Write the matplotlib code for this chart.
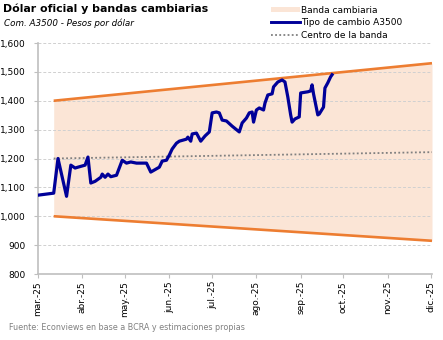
import matplotlib
matplotlib.use("Agg")
import matplotlib.pyplot as plt
from matplotlib.patches import Patch
from matplotlib.lines import Line2D
import pandas as pd

# ---- data ----
fx_dates = ["2025-03-01", "2025-03-12", "2025-03-15", "2025-03-21", "2025-03-24", "2025-03-27",
            "2025-03-29", "2025-04-03", "2025-04-05", "2025-04-07", "2025-04-10", "2025-04-14",
            "2025-04-15", "2025-04-17", "2025-04-19", "2025-04-21", "2025-04-25", "2025-04-29",
            "2025-05-02", "2025-05-05", "2025-05-09", "2025-05-14", "2025-05-16", "2025-05-19",
            "2025-05-25", "2025-05-27", "2025-05-30", "2025-06-01", "2025-06-03", "2025-06-06",
            "2025-06-08", "2025-06-13", "2025-06-14", "2025-06-16", "2025-06-17", "2025-06-20",
            "2025-06-23", "2025-06-26", "2025-06-29", "2025-07-01", "2025-07-04", "2025-07-06",
            "2025-07-08", "2025-07-11", "2025-07-15", "2025-07-20", "2025-07-22", "2025-07-25",
            "2025-07-27", "2025-07-29", "2025-07-30", "2025-08-01", "2025-08-03", "2025-08-06",
            "2025-08-07", "2025-08-09", "2025-08-12", "2025-08-13", "2025-08-16", "2025-08-19",
            "2025-08-21", "2025-08-23", "2025-08-25", "2025-08-26", "2025-08-28", "2025-08-31",
            "2025-09-01", "2025-09-06", "2025-09-08", "2025-09-09", "2025-09-10", "2025-09-13",
            "2025-09-14", "2025-09-17", "2025-09-18", "2025-09-20", "2025-09-22", "2025-09-23"]
fx_values = [1073, 1080, 1200, 1069, 1177, 1167,
             1170, 1177, 1205, 1115, 1121, 1135,
             1146, 1135, 1146, 1137, 1142, 1194,
             1184, 1188, 1184, 1184, 1184, 1153,
             1170, 1191, 1194, 1212, 1233, 1253,
             1260, 1267, 1274, 1260, 1285, 1288,
             1260, 1278, 1292, 1358, 1361, 1358,
             1333, 1330, 1312, 1292, 1323, 1340,
             1358, 1361, 1326, 1368, 1375, 1368,
             1392, 1420, 1424, 1448, 1465, 1472,
             1465, 1413, 1351, 1326, 1337, 1344,
             1427, 1431, 1434, 1455, 1424, 1351,
             1354, 1378, 1444, 1462, 1483, 1490]

band_dates = ["2025-03-12", "2025-12-02"]
band_upper = [1400, 1530]
band_lower = [1000, 915]
band_center = [1200, 1222]

y_ticks = [800, 900, 1000, 1100, 1200, 1300, 1400, 1500, 1600]
month_ticks = ["2025-03-01", "2025-04-01", "2025-05-01", "2025-06-01", "2025-07-01",
               "2025-08-01", "2025-09-01", "2025-10-01", "2025-11-01", "2025-12-01"]
month_labels = ["mar.-25", "abr.-25", "may.-25", "jun.-25", "jul.-25",
                "ago.-25", "sep.-25", "oct.-25", "nov.-25", "dic.-25"]

# ---- style ----
ORANGE = "#ED7D31"
FILL = "#FBE5D6"
BLUE = "#000099"
GRAY = "#808080"

plt.rcParams['font.family'] = ['DejaVu Sans']

fig = plt.figure(figsize=(4.43, 3.40), dpi=100)
ax = fig.add_axes([38/443, 1-274/340, (432-38)/443, (274-43)/340])

fxd = pd.to_datetime(fx_dates)
bd = pd.to_datetime(band_dates)

ax.fill_between(bd, band_lower, band_upper, color=FILL, lw=0, zorder=1)
ax.plot(bd, band_upper, color=ORANGE, lw=1.9, zorder=3, solid_capstyle='butt')
ax.plot(bd, band_lower, color=ORANGE, lw=1.9, zorder=3, solid_capstyle='butt')
ax.plot(bd, band_center, color=GRAY, lw=1.3, ls=(0, (1, 1.3)), zorder=2)
ax.plot(fxd, fx_values, color=BLUE, lw=2.3, zorder=4, solid_joinstyle='round')

ax.set_ylim(800, 1600)
ax.set_xlim(pd.Timestamp("2025-03-01"), pd.Timestamp("2025-12-02"))
ax.set_yticks(y_ticks)
ax.set_yticklabels([f"{v:,}" for v in y_ticks], fontsize=6.5)
ax.set_xticks(pd.to_datetime(month_ticks))
ax.set_xticklabels(month_labels, rotation=90, fontsize=6.5)

ax.grid(axis='y', color='#D0D0D0', ls=(0, (3, 2)), lw=0.7, zorder=0)
for s in ['top', 'right']:
    ax.spines[s].set_visible(False)
for s in ['left', 'bottom']:
    ax.spines[s].set_color('#BFBFBF')
    ax.spines[s].set_linewidth(1.2)
ax.tick_params(axis='both', colors='#BFBFBF', labelcolor='black', length=3, width=0.8)
ax.tick_params(axis='y', pad=6)
ax.tick_params(axis='x', pad=2)

fig.text(3/443, 1-3/340, "Dólar oficial y bandas cambiarias", fontsize=7.9, fontweight='bold',
         va='top', ha='left')
fig.text(4/443, 1-18/340, "Com. A3500 - Pesos por dólar", fontsize=6.3, style='italic',
         va='top', ha='left')
fig.text(9/443, 1-328/340, "Fuente: Econviews en base a BCRA y estimaciones propias",
         fontsize=5.8, color='#808080', va='center', ha='left')

handles = [Patch(facecolor=FILL, edgecolor='none'),
           Line2D([], [], color=BLUE, lw=2.1),
           Line2D([], [], color=GRAY, lw=1.3, ls=(0, (1, 1.3)))]
labels = ["Banda cambiaria", "Tipo de cambio A3500", "Centro de la banda"]
fig.legend(handles, labels, loc='upper left', bbox_to_anchor=(267/443, 1-2/340),
           frameon=False, fontsize=6.5, handlelength=3.2, handleheight=0.6,
           handletextpad=0.2, labelspacing=0.4, borderaxespad=0)

fig.savefig("out.png", dpi=100)
